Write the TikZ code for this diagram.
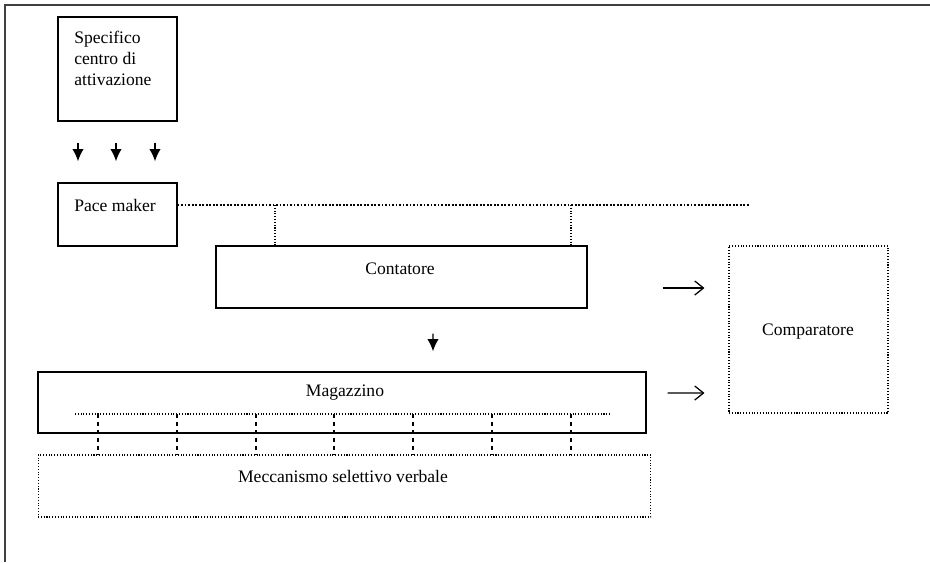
\documentclass[tikz,border=0pt]{standalone}
\usepackage{fontspec}
\setmainfont{Liberation Serif}
\usetikzlibrary{calc,arrows.meta}

\tikzset{
  box/.style={draw, line width=0.8pt, inner sep=0pt},
  dotbox/.style={draw, densely dotted, line width=0.6pt, inner sep=0pt},
  lbl/.style={inner sep=0pt},
  dotline/.style={densely dotted, line width=0.6pt},
  dashline/.style={dash pattern=on 2.5pt off 2pt, line width=0.6pt},
  fillarr/.style={-{Latex[length=7pt,width=6.5pt]}, line width=0.8pt},
  openarr/.style={-{Straight Barb[length=5pt,width=8pt]}, line width=0.7pt}
}

\begin{document}
\begin{tikzpicture}[x=0.02cm, y=-0.02cm]
\useasboundingbox (0,0) rectangle (930,562);
\draw [line width=0.8pt, black!75] (5,562) -- (5,5) -- (930,5);
% boxes
\node [box, minimum width=2.38cm, minimum height=2.08cm] (spec) at (117.5,69) {};
\node [lbl, anchor=north west, align=left] (spectxt) at (74,31) {Specifico\\centro di\\attivazione};
\node [box, minimum width=2.38cm, minimum height=1.26cm] (pace) at (117.5,214.5) {};
\node [lbl, anchor=west] (pacetxt) at (74,205) {Pace maker};
\node [box, minimum width=7.42cm, minimum height=1.24cm] (cont) at (401.5,277) {};
\node [lbl] (conttxt) at (400,269) {Contatore};
\node [dotbox, minimum width=3.18cm, minimum height=3.34cm] (comp) at (808.5,329.5) {};
\node [lbl] (comptxt) at (808,332) {Comparatore};
\node [box, minimum width=12.16cm, minimum height=1.22cm] (mag) at (342,402.5) {};
\node [lbl] (magtxt) at (345,393) {Magazzino};
\node [dotbox, minimum width=12.26cm, minimum height=1.24cm] (mecc) at (344.5,486) {};
\node [lbl] (mecctxt) at (343,476) {Meccanismo selettivo verbale};
% arrows
\foreach \dx in {-39.5,-1.5,37.5}
  \draw [fillarr] ($(spec.south)+(\dx,21)$) -- ($(pace.north)+(\dx,-21)$);
\draw [fillarr] ($(cont.south)+(31.5,25)$) -- ($(mag.north)+(91,-20)$);
\draw [openarr] ($(cont.east)+(75,11)$) -- ($(comp.west)+(-24,-41.5)$);
\draw [openarr] ($(mag.east)+(21,-9.5)$) -- ($(comp.west)+(-24,63.5)$);
% pace maker line
\coordinate (pmend) at (750,205);
\coordinate (tapA) at (275,205);
\coordinate (tapB) at (571,205);
\draw [dotline, line width=1pt] ($(pace.east)+(0,-9.5)$) -- (pmend);
\draw [dotline] (tapA) -- (tapA |- cont.north);
\draw [dotline] (tapB) -- (tapB |- cont.north);
% magazzino line
\coordinate (magL) at (75,414);
\coordinate (magR) at (610,414);
\draw [dotline] (magL) -- (magR);
\foreach \x in {98,177,256,334,413,492,571}
  \draw [dashline] (\x,414) -- (\x,414 |- mecc.north);
\end{tikzpicture}
\end{document}
